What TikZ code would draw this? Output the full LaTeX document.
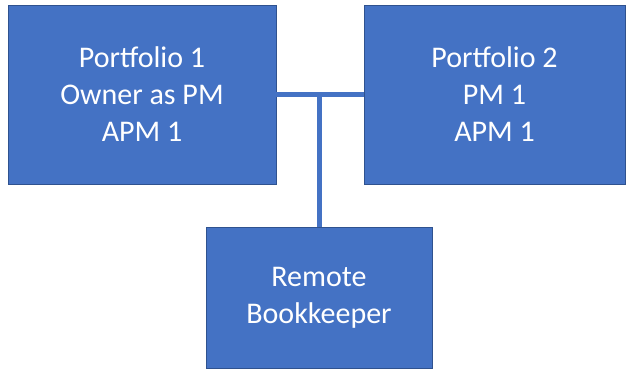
\documentclass[tikz,border=0pt]{standalone}
\usepackage{fontspec}
\setmainfont{Carlito}
\usepackage{tikz}
\usetikzlibrary{calc,positioning}
\definecolor{boxblue}{HTML}{4472C4}
\definecolor{boxedge}{HTML}{2F528F}
\tikzstyle{unit}  = [rectangle, draw=boxedge, line width=0.8pt, fill=boxblue, text=white, align=center, font=\fontsize{30}{37}\selectfont, inner sep=0pt]
\tikzstyle{link}  = [draw=boxblue, line width=5pt]

\begin{document}
\begin{tikzpicture}[x=1pt,y=-1pt]
        \useasboundingbox (0,0) rectangle (626,370);

        \node[unit, minimum width=268pt, minimum height=179pt] (p1) at (142,94.5) {Portfolio 1\\Owner as PM\\APM 1};
        \node[unit, minimum width=261pt, minimum height=179pt] (p2) at (494.5,94.5) {Portfolio 2\\PM 1\\APM 1};
        \node[unit, minimum width=226pt, minimum height=141pt] (bk) at (319,297.5) {Remote\\Bookkeeper};

        \coordinate (tee) at (bk.north |- p1.east);
        \draw[link] (p1.east) -- (p2.west);
        \draw[link] (tee) -- (bk.north);
    \end{tikzpicture}
\end{document}
